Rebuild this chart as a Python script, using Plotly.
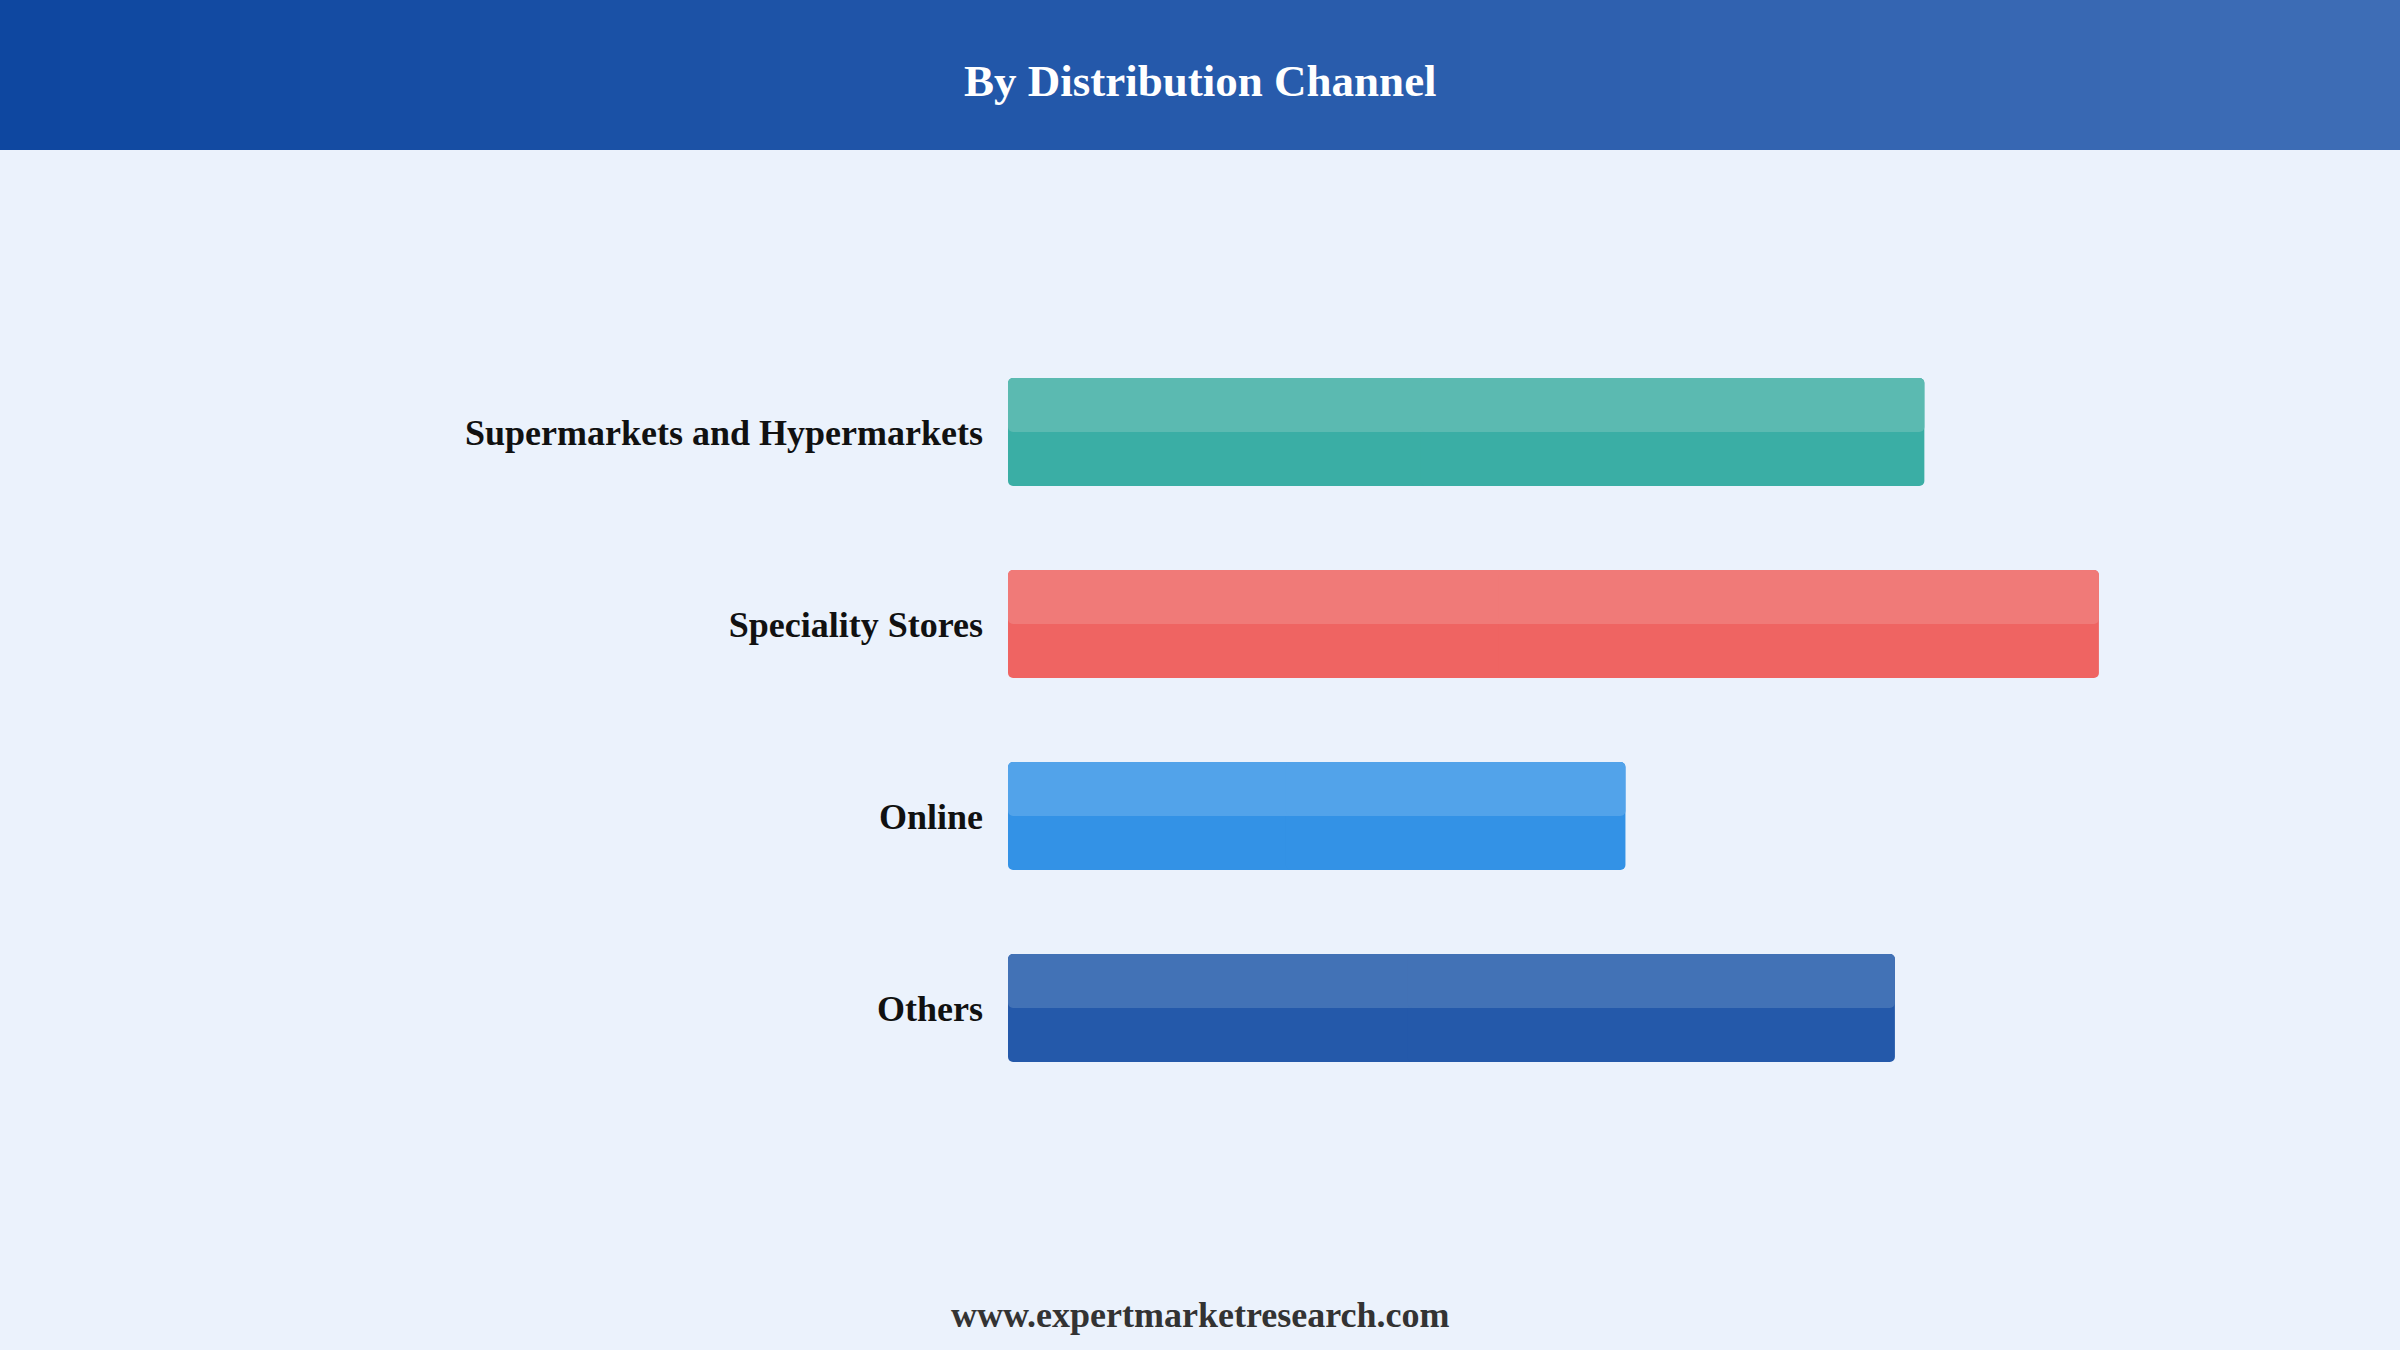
import plotly.graph_objects as go

# dados
canais = ['Supermarkets and Hypermarkets', 'Speciality Stores', 'Online', 'Others']
valores = [84.0, 100.0, 56.6, 81.3]
cores_escuras = ['#3AAEA5', '#EF6462', '#3392E6', '#2459AA']
cores_claras = ['#5BBAB1', '#F07A78', '#52A3EA', '#4272B6']

W, H = 2400, 1350
fundo = '#EBF2FC'
serif = 'Liberation Serif'
largura = 0.5625
raio = 5

fig = go.Figure()

# cada barra em duas metades (esquerda/direita) para arredondar os quatro cantos
def metades(cores, width, offset):
    esq = go.Bar(y=canais, x=[-v * 0.55 for v in valores], base=[v * 0.55 for v in valores],
                 orientation='h', width=width, offset=offset,
                 marker=dict(color=cores, line=dict(width=0), cornerradius=raio),
                 hoverinfo='skip', showlegend=False)
    dir_ = go.Bar(y=canais, x=[v * 0.55 for v in valores], base=[v * 0.45 for v in valores],
                  orientation='h', width=width, offset=offset,
                  marker=dict(color=cores, line=dict(width=0), cornerradius=raio),
                  hoverinfo='skip', showlegend=False)
    return [esq, dir_]

for t in metades(cores_escuras, largura, -largura / 2):
    fig.add_trace(t)
for t in metades(cores_claras, largura / 2, -largura / 2):
    fig.add_trace(t)

# faixa do cabeçalho em degradê
n = 80
c0 = (14, 71, 160)
c1 = (62, 109, 182)
shapes = []
for i in range(n):
    f = i / (n - 1)
    cor = 'rgb(%d,%d,%d)' % tuple(round(a + (b - a) * f) for a, b in zip(c0, c1))
    shapes.append(dict(type='rect', xref='paper', yref='paper',
                       x0=i / n, x1=(i + 1) / n + 0.001, y0=1 - 150 / H, y1=1,
                       fillcolor=cor, line=dict(width=0), layer='below'))

fig.update_layout(
    width=W, height=H,
    margin=dict(l=0, r=0, t=0, b=0),
    paper_bgcolor=fundo, plot_bgcolor=fundo,
    barmode='overlay',
    shapes=shapes,
    xaxis=dict(domain=[1008 / W, 2208 / W], range=[0, 110], visible=False, fixedrange=True),
    yaxis=dict(domain=[1 - 1104 / H, 1 - 336 / H], range=[3.5, -0.5],
               categoryorder='array', categoryarray=canais,
               showgrid=False, zeroline=False, showline=False, ticks='',
               ticklabelstandoff=24, fixedrange=True,
               tickfont=dict(family=serif, size=36, color='#111111', weight='bold')),
    annotations=[
        dict(text='By Distribution Channel', xref='paper', yref='paper', x=0.5, y=1 - 81 / H,
             showarrow=False, xanchor='center', yanchor='middle',
             font=dict(family=serif, size=45, color='white', weight='bold')),
        dict(text='www.expertmarketresearch.com', xref='paper', yref='paper', x=0.5, y=1 - 1315 / H,
             showarrow=False, xanchor='center', yanchor='middle',
             font=dict(family=serif, size=36, color='#333333', weight='bold')),
    ],
)

fig.write_html("out.html", config={'displayModeBar': False},
               post_script="document.body.style.margin='0';document.body.style.overflow='hidden';")
